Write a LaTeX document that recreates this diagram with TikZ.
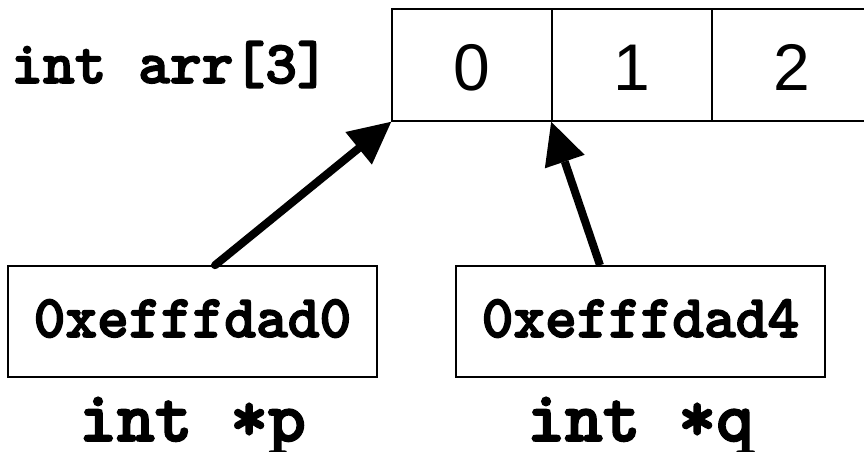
\documentclass[tikz,border=0pt]{standalone}
\usepackage{fontspec}
\setmainfont{Liberation Sans}
\newfontfamily\codefont[FakeBold=2.5]{lmmonolt10-bold.otf}
\usetikzlibrary{arrows.meta}
\begin{document}
\begin{tikzpicture}[x=1pt,y=-1pt,
  cell/.style={draw=black, line width=1.6pt, minimum width=160pt,
    minimum height=112pt, inner sep=0pt, text height=50pt, text depth=0pt,
    font=\fontsize{66}{66}\selectfont},
  ptrbox/.style={draw=black, line width=1.6pt, minimum width=369pt,
    minimum height=111pt, inner sep=0pt, text height=31pt, text depth=0pt,
    font=\codefont\fontsize{60.5}{60.5}\selectfont},
  arrlabel/.style={inner sep=0pt, anchor=base,
    font=\codefont\fontsize{60.5}{60.5}\selectfont},
  decl/.style={inner sep=0pt, anchor=base,
    font=\codefont\fontsize{72}{72}\selectfont},
  ptr/.style={line width=8pt,
    -{Triangle[length=42pt,width=42pt,line width=0pt]}}]
  \useasboundingbox (0,0) rectangle (864,452);
  \clip (0,0) rectangle (864,452);
  \fill[white] (0,0) rectangle (864,452);

  % the array and its declaration
  \node[arrlabel] (arrlbl) at (170,83) {int arr[3]};
  \node[cell] (c0) at (472,65) {0};
  \node[cell] (c1) at (632,65) {1};
  \node[cell] (c2) at (792,65) {2};

  % the two pointers
  \node[ptrbox] (pbox) at (192.5,321.5) {0xefffdad0};
  \node[ptrbox] (qbox) at (640.5,321.5) {0xefffdad4};
  \node[decl] (pdecl) at (192.5,441) {int *p};
  \node[decl] (qdecl) at (640.5,441) {int *q};

  % p points at arr[0], q at arr[1]
  \draw[ptr, line cap=round] ([xshift=22.5pt]pbox.north) -- (c0.south west);
  \draw[ptr] ([xshift=-40.5pt]qbox.north) -- (c1.south west);
\end{tikzpicture}
\end{document}
